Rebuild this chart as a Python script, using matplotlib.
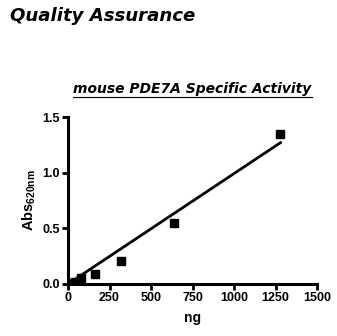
import numpy as np
import matplotlib
matplotlib.use("Agg")
import matplotlib.pyplot as plt
from matplotlib.lines import Line2D

plt.rcParams['font.family'] = ['Liberation Sans', 'DejaVu Sans']
plt.rcParams['mathtext.fontset'] = 'custom'
plt.rcParams['mathtext.bf'] = 'Liberation Sans:bold'

ng = np.array([10, 20, 40, 80, 160, 320, 640, 1280])
absorb = np.array([0.005, 0.01, 0.02, 0.05, 0.09, 0.21, 0.55, 1.35])
xticks = [0, 250, 500, 750, 1000, 1250, 1500]
yticks = [0.0, 0.5, 1.0, 1.5]

# straight line through origin
slope = np.sum(ng * absorb) / np.sum(ng * ng)
xfit = np.array([0, ng.max()])

W, H = 337, 336
fig = plt.figure(figsize=(W / 100, H / 100), dpi=100)
ax = fig.add_axes([68 / W, (H - 284) / H, (317 - 68) / W, (284 - 117) / H])

ax.plot(xfit, slope * xfit, color='black', lw=2)
ax.plot(ng, absorb, 's', color='black', ms=6)

ax.set_xlim(0, 1500)
ax.set_ylim(0, 1.5)
ax.set_xticks(xticks)
ax.set_yticks(yticks)
ax.set_xticklabels([str(t) for t in xticks], fontweight='bold', fontsize=9)
ax.set_yticklabels(['%.1f' % t for t in yticks], fontweight='bold', fontsize=9)
ax.tick_params(direction='out', width=2, length=4, pad=2)
for s in ['top', 'right']:
    ax.spines[s].set_visible(False)
for s in ['left', 'bottom']:
    ax.spines[s].set_linewidth(2.2)

ax.set_xlabel('ng', fontweight='bold', fontsize=10, labelpad=5)
ax.set_ylabel(r'Abs$_{\mathbf{620nm}}$', fontweight='bold', fontsize=10.5, labelpad=3)

fig.text(10 / W, 1 - 16 / H, 'Quality Assurance', fontsize=13.1, fontweight='bold',
         fontstyle='italic', va='center', ha='left', family='DejaVu Sans')
fig.text(192 / W, 1 - 89 / H, 'mouse PDE7A Specific Activity', fontsize=10,
         fontweight='bold', fontstyle='italic', va='center', ha='center',
         family='DejaVu Sans')
fig.add_artist(Line2D([73 / W, 312 / W], [1 - 97 / H, 1 - 97 / H],
                      transform=fig.transFigure, color='black', lw=0.8))

fig.savefig('out.png', dpi=100)
